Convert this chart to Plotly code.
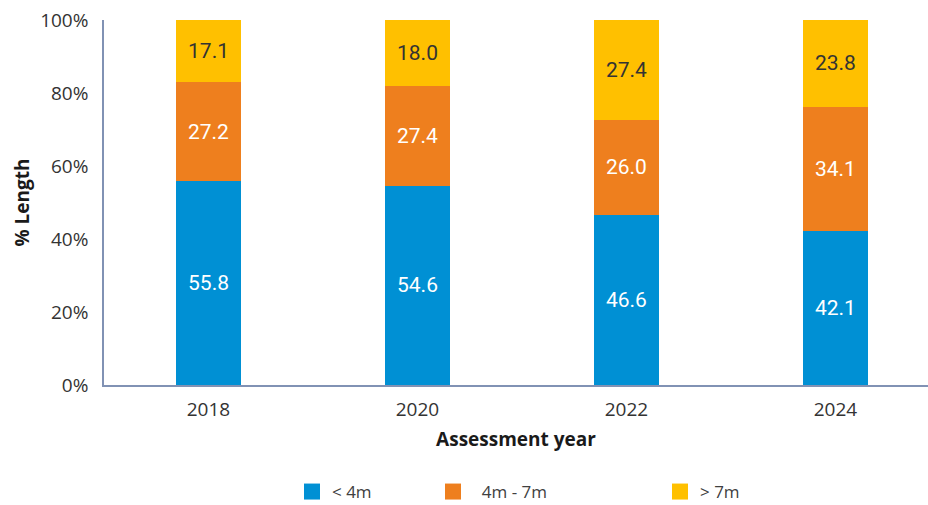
import plotly.graph_objects as go

years = ["2018", "2020", "2022", "2024"]
under_4m = [55.8, 54.6, 46.6, 42.1]
from_4_to_7m = [27.2, 27.4, 26.0, 34.1]
over_7m = [17.1, 18.0, 27.4, 23.8]

series = [
    ("< 4m", under_4m, "#0090D4", "white", "legend"),
    ("  4m - 7m", from_4_to_7m, "#EE7F1E", "white", "legend2"),
    ("> 7m", over_7m, "#FFC000", "#333333", "legend3"),
]

label_font = "Roboto, 'Open Sans', sans-serif"
axis_font = "'Open Sans', 'Noto Sans', sans-serif"
axis_line = "#8192B4"

fig = go.Figure()
for name, vals, color, txtcolor, lg in series:
    fig.add_trace(go.Bar(
        x=years, y=vals, name=name, marker=dict(color=color, line=dict(width=0)),
        width=0.31, text=[f"{v:.1f}" for v in vals], textposition="inside",
        insidetextanchor="middle", textangle=0, constraintext="none",
        textfont=dict(family=label_font, size=21, color=txtcolor),
        showlegend=False, hoverinfo="skip",
    ))
    # legend swatch
    fig.add_trace(go.Scatter(
        x=[None], y=[None], mode="markers", name=name, legend=lg,
        marker=dict(symbol="square", size=16, color=color),
    ))

legend_common = dict(
    orientation="h", yanchor="middle", xanchor="left",
    yref="container", y=1 - 492 / 505,
    font=dict(family=axis_font, size=17, color="#404040"),
    bgcolor="rgba(0,0,0,0)", itemsizing="trace",
)
fig.update_layout(
    barmode="stack",
    width=928, height=505,
    margin=dict(l=104, r=0, t=20, b=120, autoexpand=False),
    paper_bgcolor="white", plot_bgcolor="white",
    font=dict(family=axis_font, color="#404040"),
    legend=dict(x=(292 - 104) / 824, **legend_common),
    legend2=dict(x=(433 - 104) / 824, **legend_common),
    legend3=dict(x=(660 - 104) / 824, **legend_common),
    xaxis=dict(
        range=[-0.5, 3.443], showline=True, linecolor=axis_line, linewidth=1.5,
        ticks="", tickfont=dict(size=19, color="#333333"), ticklabelstandoff=6,
        title=dict(text="<b>Assessment year</b>", font=dict(size=19, color="#1a1a1a"), standoff=12),
        showgrid=False, zeroline=False,
    ),
    yaxis=dict(
        range=[0, 100], tickvals=[0, 20, 40, 60, 80, 100],
        ticktext=["0%", "20%", "40%", "60%", "80%", "100%"],
        showline=True, linecolor=axis_line, linewidth=1.5,
        ticks="", tickfont=dict(size=19, color="#333333"), ticklabelstandoff=10,
        title=dict(text="<b>% Length</b>", font=dict(size=19, color="#1a1a1a"), standoff=5),
        showgrid=False, zeroline=False,
    ),
)

fig.write_html("out.html")
